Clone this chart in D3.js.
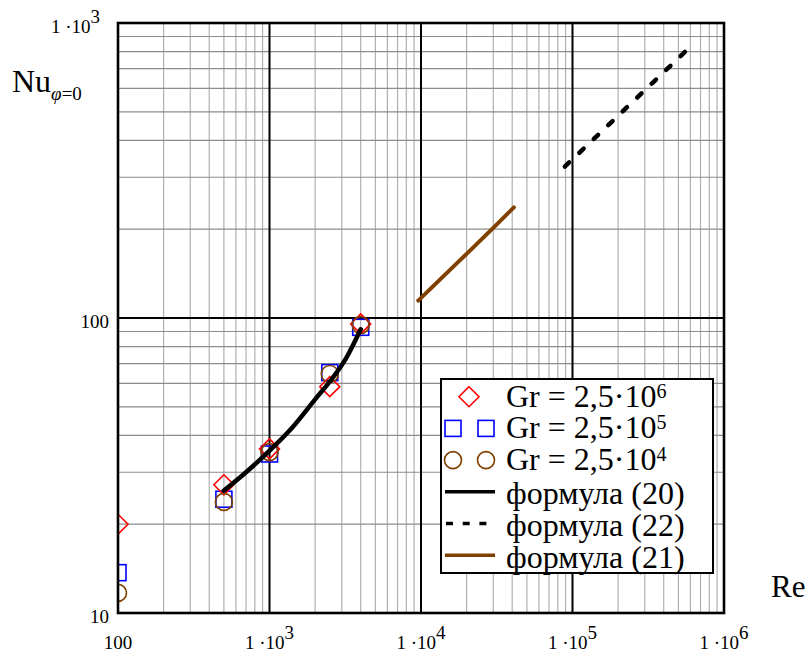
<!DOCTYPE html>
<html><head><meta charset="utf-8">
<script src="https://cdn.jsdelivr.net/npm/d3@7"></script>
<style>body{margin:0;background:#fff}svg{display:block}text{font-family:"Liberation Serif","Times New Roman",serif;fill:#000}</style>
</head><body><svg id="c" width="810" height="654"></svg>
<script>
const reMeasured = [100, 500, 1000, 2500, 4000];
const nuGr6 = [20, 27.2, 36, 58.5, 95.5];
const nuGr5 = [13.7, 24.3, 34.6, 65.3, 93];
const nuGr4 = [11.7, 23.8, 35.1, 64.6, 94.6];
const re20 = [500, 700, 1000, 1400, 2000, 2600, 3200, 4000];
const nu20 = [26, 30, 35.5, 42.3, 53, 62.5, 73, 91.6];
const re21 = [9600, 15000, 20000, 30000, 41000];
const nu21 = [114.6, 143, 165, 202, 237];
const re22 = [89000, 150000, 250000, 400000, 567000];
const nu22 = [326, 421, 541, 681, 808];
const xTicks = [100, 1e3, 1e4, 1e5, 1e6];
const xTickText = ["100", "1 ·10", "1 ·10", "1 ·10", "1 ·10"];
const xTickSup = ["", "3", "4", "5", "6"];
const yTicks = [10, 100, 1000];
const yTickText = ["10", "100", "1 ·10"];
const yTickSup = ["", "", "3"];
const legendText = ["Gr = 2,5·10", "Gr = 2,5·10", "Gr = 2,5·10", "формула (20)", "формула (22)", "формула (21)"];
const legendSup = ["6", "5", "4", "", "", ""];

const RED = "#ff0000", BLUE = "#0000ff", BROWN = "#804000";
const svg = d3.select("#c");
const L = 118, T = 23, R = 724, B = 613;
const x = d3.scaleLog().domain([100, 1e6]).range([L, R]);
const y = d3.scaleLog().domain([10, 1000]).range([B, T]);

svg.append("defs").append("clipPath").attr("id", "clip")
  .append("rect").attr("x", L).attr("y", T).attr("width", R - L).attr("height", B - T);

// grid
const minorX = [], minorY = [];
for (let d = 100; d < 1e6; d *= 10) for (let k = 2; k <= 9; k++) minorX.push(d * k);
for (let d = 10; d < 1000; d *= 10) for (let k = 2; k <= 9; k++) minorY.push(d * k);
const g = svg.append("g");
g.selectAll(".mx").data(minorX).join("line").attr("x1", d => x(d)).attr("x2", d => x(d))
  .attr("y1", T).attr("y2", B).attr("stroke", "#b0b0b0").attr("stroke-width", 1.2);
g.selectAll(".my").data(minorY).join("line").attr("y1", d => y(d)).attr("y2", d => y(d))
  .attr("x1", L).attr("x2", R).attr("stroke", "#8c8c8c").attr("stroke-width", 1.2);
g.selectAll(".Mx").data(xTicks.slice(1, -1)).join("line").attr("x1", d => x(d)).attr("x2", d => x(d))
  .attr("y1", T).attr("y2", B).attr("stroke", "#000").attr("stroke-width", 2);
g.selectAll(".My").data(yTicks.slice(1, -1)).join("line").attr("y1", d => y(d)).attr("y2", d => y(d))
  .attr("x1", L).attr("x2", R).attr("stroke", "#000").attr("stroke-width", 2);

const plot = svg.append("g").attr("clip-path", "url(#clip)");

// markers
function diamond(sel, cx, cy, s) {
  sel.append("path").attr("d", `M${cx},${cy - s}L${cx + s},${cy}L${cx},${cy + s}L${cx - s},${cy}Z`)
    .attr("fill", "none").attr("stroke", RED).attr("stroke-width", 1.6);
}
function square(sel, cx, cy, s) {
  sel.append("rect").attr("x", cx - s).attr("y", cy - s).attr("width", 2 * s).attr("height", 2 * s)
    .attr("fill", "none").attr("stroke", BLUE).attr("stroke-width", 1.6);
}
function circle(sel, cx, cy, r) {
  sel.append("circle").attr("cx", cx).attr("cy", cy).attr("r", r)
    .attr("fill", "none").attr("stroke", BROWN).attr("stroke-width", 1.6);
}
reMeasured.forEach((re, i) => square(plot, x(re), y(nuGr5[i]), 8));
reMeasured.forEach((re, i) => diamond(plot, x(re), y(nuGr6[i]), 10));
reMeasured.forEach((re, i) => circle(plot, x(re), y(nuGr4[i]), 8.5));

const line = d3.line().x(d => x(d[0])).y(d => y(d[1])).curve(d3.curveMonotoneX);
plot.append("path").datum(re21.map((r, i) => [r, nu21[i]])).attr("d", line)
  .attr("fill", "none").attr("stroke", BROWN).attr("stroke-width", 4).attr("stroke-linecap", "round");
plot.append("path").datum(re22.map((r, i) => [r, nu22[i]])).attr("d", line)
  .attr("fill", "none").attr("stroke", "#000").attr("stroke-width", 4.5).attr("stroke-linecap", "round")
  .attr("stroke-dasharray", "6,14");
plot.append("path").datum(re20.map((r, i) => [r, nu20[i]])).attr("d", line)
  .attr("fill", "none").attr("stroke", "#000").attr("stroke-width", 4.5).attr("stroke-linecap", "round");

// frame
svg.append("rect").attr("x", L).attr("y", T).attr("width", R - L).attr("height", B - T)
  .attr("fill", "none").attr("stroke", "#000").attr("stroke-width", 2.6);

// tick labels
function supText(sel, txt, sup, supDy) {
  sel.append("tspan").text(txt);
  if (sup) sel.append("tspan").attr("dy", supDy).text(sup);
}
xTicks.forEach((v, i) => {
  const t = svg.append("text").attr("x", x(v)).attr("y", 649).attr("text-anchor", "middle").attr("font-size", 19);
  supText(t, xTickText[i], xTickSup[i], -10);
});
yTicks.forEach((v, i) => {
  const t = svg.append("text").attr("x", yTickSup[i] ? 100 : 109).attr("y", y(v) + 10)
    .attr("text-anchor", "end").attr("font-size", 19);
  supText(t, yTickText[i], yTickSup[i], -10);
});

// axis titles
const nu = svg.append("text").attr("x", 12).attr("y", 92).attr("font-size", 32);
nu.append("tspan").text("Nu");
nu.append("tspan").attr("dy", 8).attr("font-size", 19).attr("font-style", "italic").text("φ");
nu.append("tspan").attr("font-size", 19).text("=0");
svg.append("text").attr("x", 771).attr("y", 597).attr("font-size", 31).text("Re");

// legend
const lg = svg.append("g");
lg.append("rect").attr("x", 441).attr("y", 379).attr("width", 272).attr("height", 194)
  .attr("fill", "#fff").attr("stroke", "#000").attr("stroke-width", 2);
const rowY = i => 396.7 + i * 31.7;
diamond(lg, 469, rowY(0), 10);
square(lg, 453, rowY(1), 8); square(lg, 486, rowY(1), 8);
circle(lg, 453, rowY(2), 8.5); circle(lg, 486, rowY(2), 8.5);
lg.append("line").attr("x1", 445).attr("x2", 495).attr("y1", rowY(3)).attr("y2", rowY(3))
  .attr("stroke", "#000").attr("stroke-width", 3.5);
lg.append("line").attr("x1", 446).attr("x2", 495).attr("y1", rowY(4)).attr("y2", rowY(4))
  .attr("stroke", "#000").attr("stroke-width", 3.5).attr("stroke-dasharray", "7,9.7");
lg.append("line").attr("x1", 445).attr("x2", 495).attr("y1", rowY(5)).attr("y2", rowY(5))
  .attr("stroke", BROWN).attr("stroke-width", 3.5);
legendText.forEach((s, i) => {
  const t = lg.append("text").attr("x", 506).attr("y", rowY(i) + (legendSup[i] ? 10 : 12.5)).attr("font-size", 32);
  t.append("tspan").text(s);
  if (legendSup[i]) t.append("tspan").attr("dy", -9).attr("font-size", 20).text(legendSup[i]);
});
</script></body></html>
